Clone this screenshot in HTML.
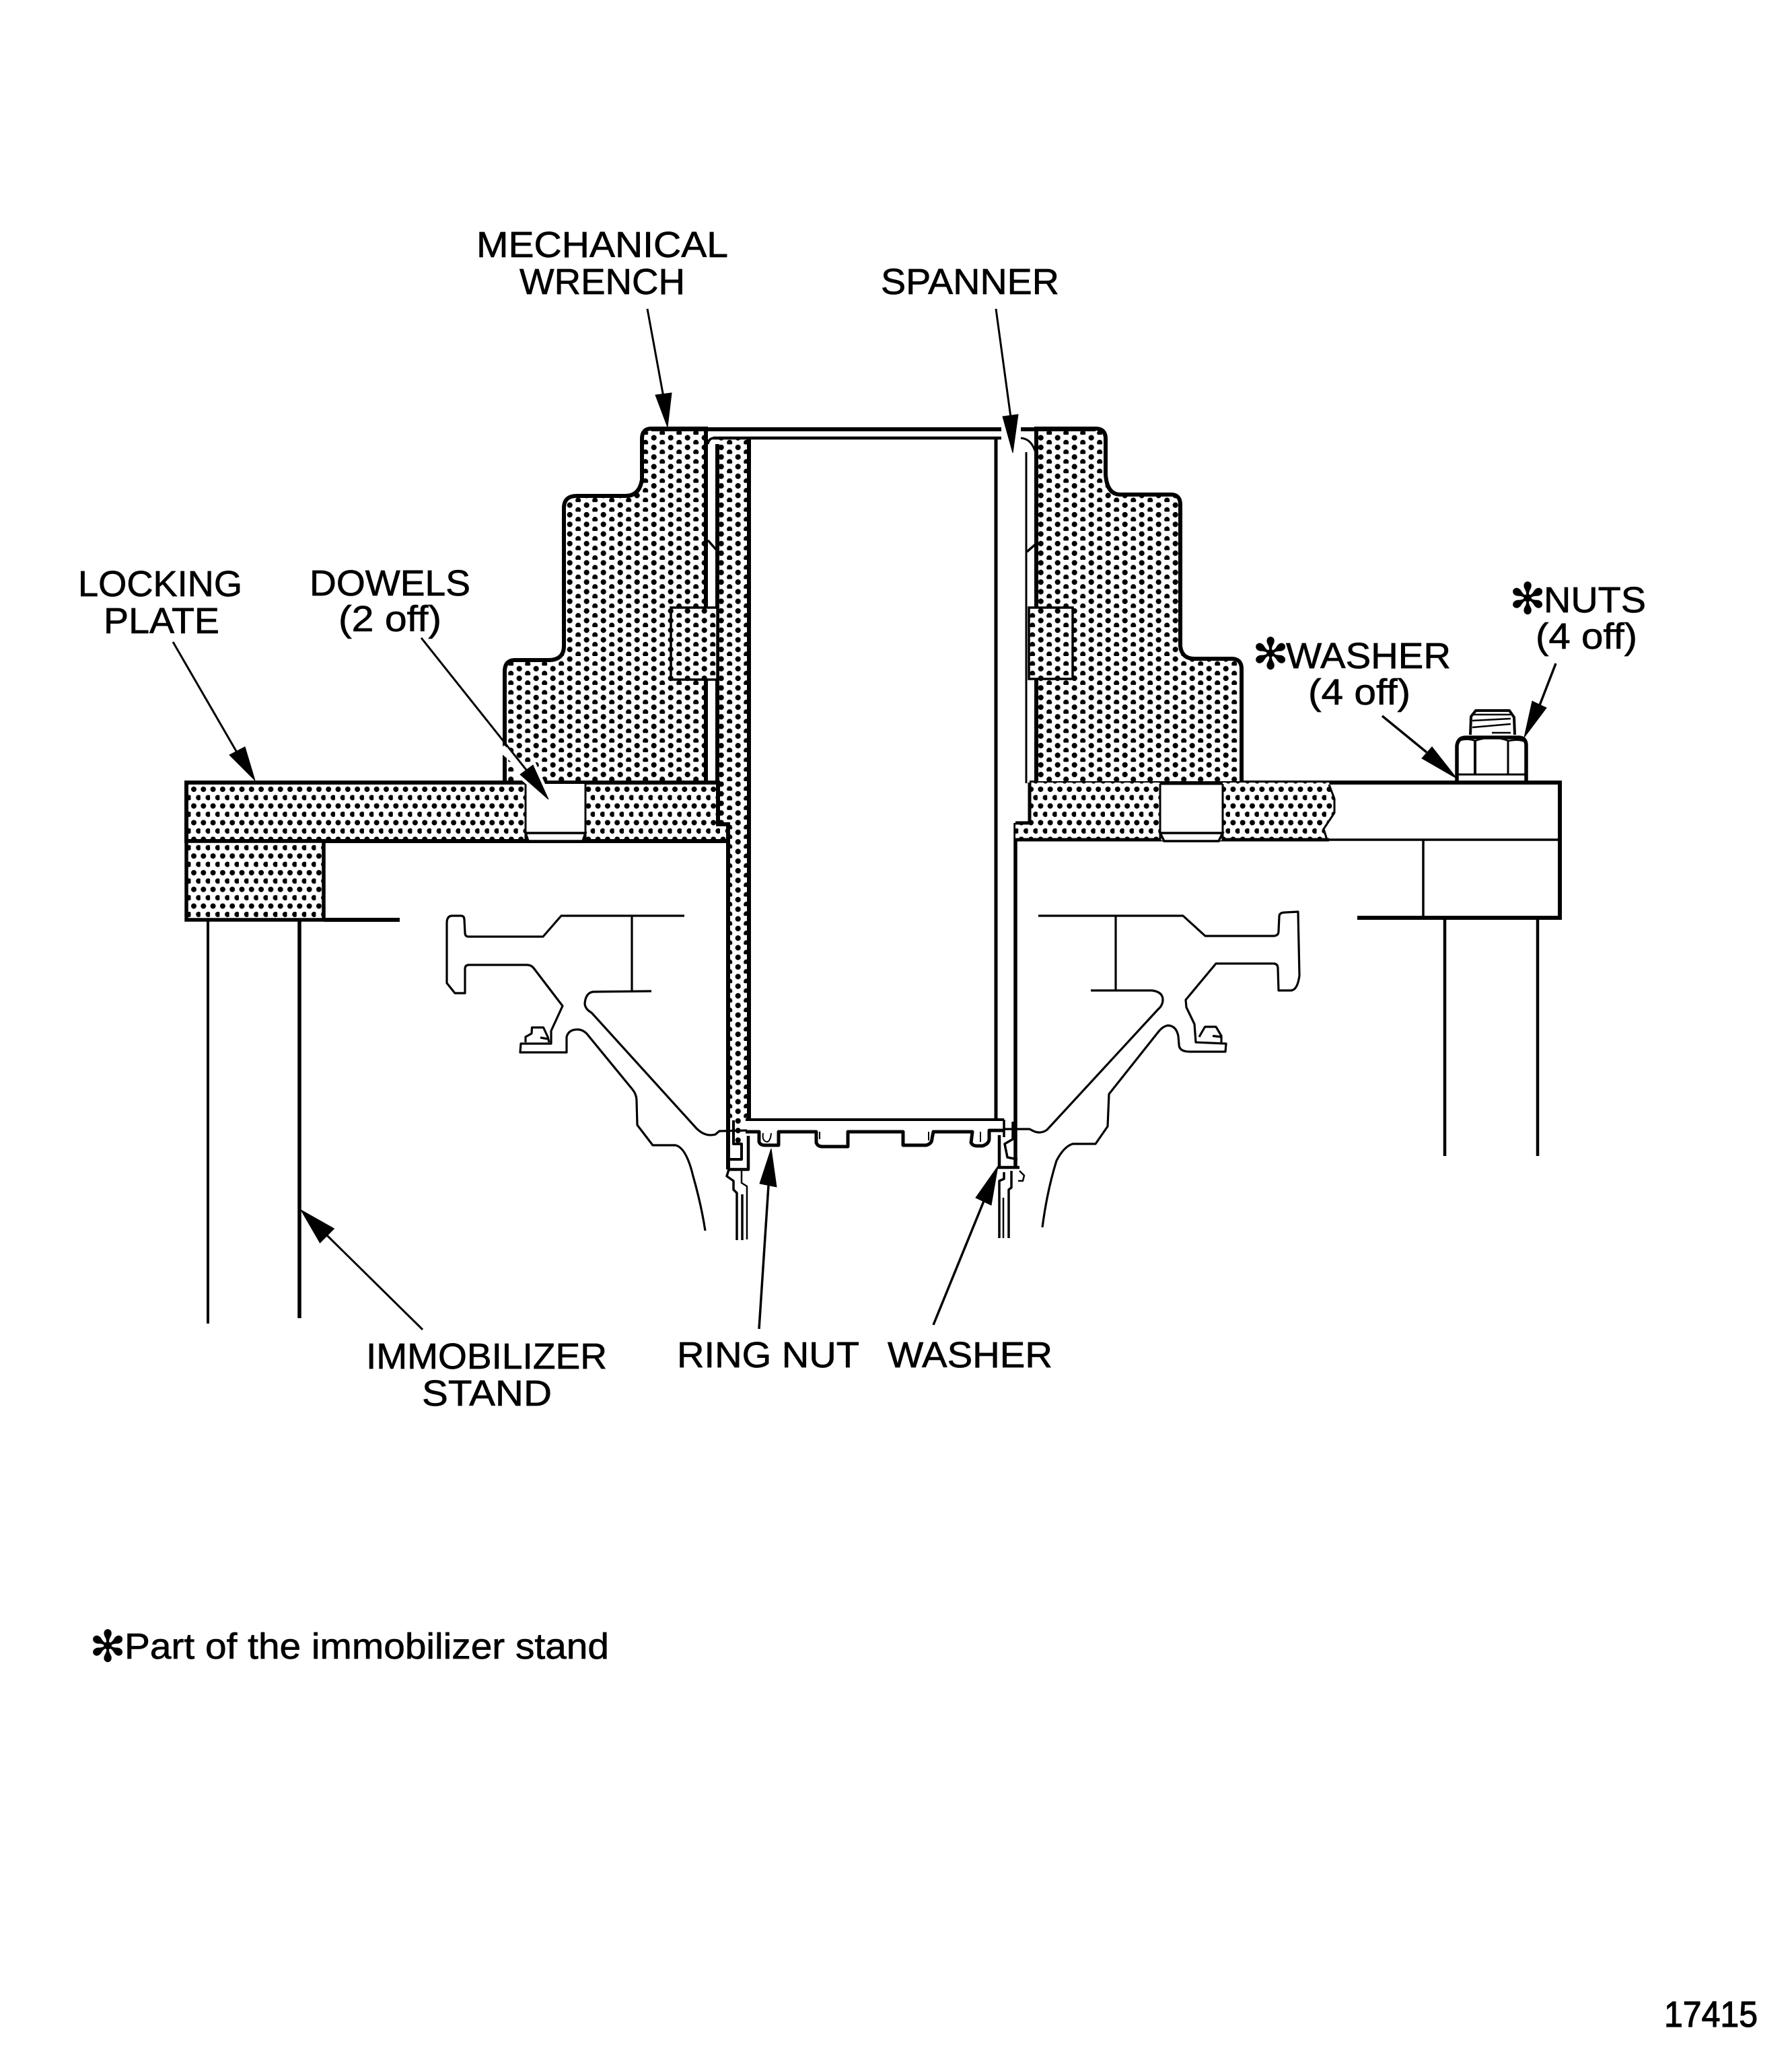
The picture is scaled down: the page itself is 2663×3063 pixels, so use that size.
<!DOCTYPE html>
<html>
<head>
<meta charset="utf-8">
<style>
html,body{margin:0;padding:0;background:#fff;}
svg{display:block;}
text{font-family:"Liberation Sans",sans-serif;font-size:54px;fill:#000;stroke:#000;stroke-width:.7;}
.ast{font-family:"DejaVu Sans",sans-serif;font-size:64px;text-anchor:middle;}
</style>
</head>
<body>
<svg xmlns="http://www.w3.org/2000/svg" width="2663" height="3063" viewBox="0 0 2663 3063">
<defs>
<pattern id="w" patternUnits="userSpaceOnUse" x="842.2" y="760.5" width="25" height="14.3">
<rect width="25" height="14.3" fill="#fff"/>
<circle cx="4.5" cy="4.5" r="4.1"/><circle cx="17" cy="11.65" r="4.1"/>
</pattern>
<pattern id="p" patternUnits="userSpaceOnUse" x="283.5" y="1168.5" width="14.3" height="24.8">
<rect width="14.3" height="24.8" fill="#fff"/>
<circle cx="4.5" cy="4.5" r="4"/><circle cx="11.65" cy="16.9" r="4"/>
</pattern>
</defs>
<rect width="2663" height="3063" fill="#fff"/>

<!-- right plate white part & frame -->
<path d="M1530 1163 L2318 1163 L2318 1364 L2017 1364" fill="none" stroke="#000" stroke-width="6"/>
<path d="M1975 1248 L2318 1248 M2115 1248 L2115 1364" fill="none" stroke="#000" stroke-width="3.5"/>
<path d="M2147 1364 V1718 M2285 1364 V1718" fill="none" stroke="#000" stroke-width="4.5"/>

<!-- wrench -->
<path d="M968 637 Q954 637 954 652 L954 713 Q950 737 930 737 L857 737 Q838 737 838 755 L838 960 Q838 981 815 981 L765 981 Q750 981 750 998 L750 1164 L1049 1164 L1049 637 Z" fill="url(#w)" stroke="#000" stroke-width="6"/>
<path d="M1540 637 L1628 637 Q1643 637 1643 652 L1643 705 Q1645 735 1665 735 L1740 735 Q1754 735 1754 750 L1754 960 Q1756 979 1775 979 L1830 979 Q1845 979 1845 994 L1845 1164 L1540 1164 Z" fill="url(#w)" stroke="#000" stroke-width="6"/>

<!-- spanner left dotted column -->
<path d="M1067 651 L1113 651 L1113 1664 L1082 1664 L1082 1225 L1067 1225 Z" fill="url(#w)" stroke="none"/>
<rect x="1090" y="1664" width="12" height="36" fill="url(#w)"/>
<path d="M1066 660 V1225 M1082 1225 V1738 M1113 651 V1664" fill="none" stroke="#000" stroke-width="6"/>

<!-- keys -->
<rect x="997" y="903" width="69" height="107" fill="url(#w)" stroke="#000" stroke-width="3.5"/>
<rect x="1529" y="903" width="65" height="106" fill="url(#w)" stroke="#000" stroke-width="3.5"/>

<!-- chamfers -->
<path d="M1052 803 L1067 820 M1526 820 L1541 807" fill="none" stroke="#000" stroke-width="3.5"/>
<path d="M1525 672 V1164" fill="none" stroke="#000" stroke-width="3"/>
<path d="M1517 651 Q1532 652 1538 670" fill="none" stroke="#000" stroke-width="3"/>
<path d="M1052 660 Q1053 651 1062 651" fill="none" stroke="#000" stroke-width="3.5"/>

<!-- top lines -->
<path d="M968 638 L1488 638 M1517 638 L1628 638" fill="none" stroke="#000" stroke-width="6"/>
<path d="M1060 651 L1488 651" fill="none" stroke="#000" stroke-width="4.5"/>
<path d="M1480 651 V1664" fill="none" stroke="#000" stroke-width="5"/>
<path d="M1509 1223 V1735" fill="none" stroke="#000" stroke-width="5.5"/>

<!-- plates -->
<path d="M277 1163 L1067 1163 L1067 1225 L1082 1225 L1082 1250 L277 1250 Z" fill="url(#p)" stroke="#000" stroke-width="6"/>
<rect x="277" y="1250" width="204" height="117" fill="url(#p)" stroke="#000" stroke-width="5.5"/>
<path d="M481 1367 L594 1367" fill="none" stroke="#000" stroke-width="6"/>
<path d="M309 1367 V1967" fill="none" stroke="#000" stroke-width="4"/>
<path d="M445 1367 V1959" fill="none" stroke="#000" stroke-width="5.5"/>
<path d="M1530 1163 L1975 1163 L1983 1187 L1983 1208 L1967 1232 L1972 1248 L1509 1248 L1509 1223 L1530 1223 Z" fill="url(#p)" stroke="none"/>
<path d="M1530 1163 V1223 H1509 M1509 1248 H1975" fill="none" stroke="#000" stroke-width="5"/>
<path d="M1975 1166 L1983 1187 L1983 1208 L1967 1232 L1972 1248" fill="none" stroke="#000" stroke-width="3"/>

<!-- dowels -->
<rect x="781" y="1165" width="89" height="84" fill="#fff"/>
<path d="M781 1165 V1250 M870 1165 V1250" fill="none" stroke="#000" stroke-width="3"/>
<path d="M781 1238 L870 1238 L866 1250 L785 1250 Z" fill="#fff" stroke="#000" stroke-width="3.5"/>
<rect x="1724" y="1165" width="93" height="84" fill="#fff"/>
<path d="M1724 1165 V1250 M1817 1165 V1250" fill="none" stroke="#000" stroke-width="3"/>
<path d="M1724 1238 L1817 1238 L1811 1250 L1730 1250 Z" fill="#fff" stroke="#000" stroke-width="3.5"/>
<path d="M1724 1164 H1817" fill="none" stroke="#000" stroke-width="5"/>

<!-- left T section -->
<g fill="none" stroke="#000" stroke-width="3.2" stroke-linejoin="round">
<path d="M1017 1361 L834 1361 L807 1392 L696 1392 Q691 1392 691 1386 L690 1367 Q690 1361 685 1361 L672 1361 Q664 1361 664 1372 L664 1461 L676 1476 L691 1476 L691 1440 Q691 1434 697 1434 L783 1434 Q790 1434 794 1440 L836 1495 L819 1532 L819 1551 L774 1551 L773 1564 L842 1564 L842 1541 Q845 1530 858 1530 Q868 1530 875 1540 L939 1618 Q946 1626 946 1636 L947 1672 L970 1702 L1004 1702 Q1020 1706 1030 1748 Q1042 1790 1048 1829"/>
<path d="M968 1473 L881 1474 Q870 1476 869 1492 Q870 1500 879 1505 L1035 1677 Q1048 1690 1063 1686 L1069 1681 L1110 1680"/>
<path d="M939 1361 L939 1474"/>
<path d="M781 1549 L781 1541 L790 1536 L790.5 1527 L807.5 1527 L814 1541 L816 1549 M803 1542 L814 1544"/>
</g>
<!-- right T section -->
<g fill="none" stroke="#000" stroke-width="3.2" stroke-linejoin="round">
<path d="M1543 1361 L1758 1361 L1791 1391 L1892 1391 Q1900 1391 1900 1384 L1901 1362 Q1901 1356 1910 1356 L1929 1355 L1931 1450 Q1928 1472 1918 1472 L1900 1472 L1899 1439 Q1899 1432 1892 1432 L1807 1432 L1762 1486 L1763 1497 L1775 1522 L1777 1549 L1822 1551 L1821 1563 L1768 1563 Q1752 1563 1752 1552 L1751 1540 Q1748 1524 1735 1524 Q1727 1526 1721 1534 L1648 1626 L1646 1674 L1628 1700 L1594 1700 Q1581 1704 1570 1725 Q1556 1770 1549 1824"/>
<path d="M1621 1472 L1712 1472 Q1728 1474 1728 1486 Q1728 1494 1721 1500 L1556 1679 Q1545 1687 1532 1679 L1530 1678 L1492 1678"/>
<path d="M1658 1361 L1658 1472"/>
<path d="M1782 1541 L1790.6 1526 L1807 1526 L1815 1539.5 L1815 1549 M1802 1539.5 L1815 1541"/>
</g>

<!-- floor with teeth -->
<g fill="none" stroke="#000" stroke-linejoin="round">
<path d="M1108 1664 L1492 1664" stroke-width="4"/>
<path d="M1492 1664 V1690" stroke-width="3.5"/>
<path d="M1108 1682 L1128 1682 L1128 1697 Q1130 1702 1136 1702 L1157 1702 L1157 1682 L1213 1682 L1213 1698 Q1215 1704 1222 1704 L1260 1704 L1260 1682 L1342 1682 L1342 1702 L1376 1702 Q1385 1700 1385 1692 L1387 1682 L1445 1682 L1443 1698 Q1445 1703 1452 1703 L1460 1703 Q1470 1700 1470 1692 L1470 1680 L1492 1680" stroke-width="5"/>
<path d="M1134 1684 Q1132 1696 1140 1697 Q1145 1696 1146 1684 M1218 1682 V1693 M1380 1682 V1695 M1457 1682 V1697" stroke-width="2"/>
<!-- left mechanism -->
<path d="M1112 1688 V1738 H1083" stroke-width="4.5"/>
<path d="M1090 1665 V1700 H1102 V1723 H1085" stroke-width="4"/>
<path d="M1083 1738 L1080 1748 L1090 1755 L1090 1768 L1095 1773 V1843" stroke-width="3.5"/>
<path d="M1103 1775 V1843" stroke-width="3.5"/>
<path d="M1102 1740 V1758 L1110 1763 V1842" stroke-width="2.5"/>
<!-- right mechanism -->
<path d="M1485 1687 V1733" stroke-width="4.5"/>
<path d="M1483 1735 H1515" stroke-width="4.5"/>
<path d="M1505 1667 V1693 L1493 1700 L1497 1720 L1512 1723" stroke-width="3.5"/>
<path d="M1515 1740 L1522 1747 L1520 1755 L1513 1755" stroke-width="2.5"/>
<path d="M1485 1840 V1755 L1492 1752 V1742" stroke-width="3.5"/>
<path d="M1491 1780 V1840" stroke-width="2.5"/>
<path d="M1499 1840 V1768 L1503 1765 V1740" stroke-width="3.5"/>
</g>

<!-- nut and bolt -->
<g fill="none" stroke="#000" stroke-linejoin="round">
<rect x="2167" y="1098" width="99" height="60" fill="#fff" stroke="none"/>
<path d="M2185 1092 L2186 1065 L2193 1056 L2243 1056 L2250 1066 L2251 1092" stroke-width="4"/>
<path d="M2188 1062 H2245 M2188 1071 L2245 1068 M2188 1081 L2245 1076 M2217 1089 H2245" stroke-width="2.5"/>
<path d="M2165 1162 L2165 1108 Q2167 1096 2178 1096 L2258 1096 Q2268 1097 2268 1108 L2268 1162" stroke-width="5.5"/>
<path d="M2170 1100 Q2182 1097 2192 1101 Q2217 1092 2242 1101 Q2256 1098 2266 1102" stroke-width="2.5"/>
<path d="M2192 1101 V1152" stroke-width="4"/>
<path d="M2241 1101 V1150" stroke-width="3"/>
<path d="M2165 1151 H2268" stroke-width="3"/>
</g>

<!-- arrows -->
<g fill="#000" stroke="#000">
<line x1="962" y1="459" x2="986" y2="590" stroke-width="3"/>
<polygon points="992,635 974,587 998,584" stroke-width="1"/>
<line x1="1480" y1="459" x2="1502" y2="620" stroke-width="3"/>
<polygon points="1505,673 1490,619 1513,616" stroke-width="1"/>
<line x1="257" y1="954" x2="352" y2="1118" stroke-width="3"/>
<polygon points="379,1160 341,1122 364,1110" stroke-width="1"/>
<path d="M745 1112 L782 1144" fill="none" stroke="#fff" stroke-width="12"/>
<polygon points="815,1188 773,1151 792,1137" fill="#fff" stroke="#fff" stroke-width="10"/>
<line x1="626" y1="948" x2="782" y2="1144" stroke-width="3"/>
<polygon points="815,1188 773,1151 792,1137" stroke-width="1"/>
<line x1="2054" y1="1064" x2="2120" y2="1118" stroke-width="3.5"/>
<polygon points="2165,1157 2113,1127 2128,1110" stroke-width="1"/>
<line x1="2312" y1="986" x2="2288" y2="1048" stroke-width="3.5"/>
<polygon points="2265,1096 2277,1042 2298,1052" stroke-width="1"/>
<line x1="628" y1="1976" x2="486" y2="1836" stroke-width="3"/>
<polygon points="447,1798 496.5,1826 475.5,1847" stroke-width="1"/>
<line x1="1128" y1="1975" x2="1142" y2="1762" stroke-width="3.5"/>
<polygon points="1146,1707 1129,1759 1154,1764" stroke-width="1"/>
<line x1="1387" y1="1969" x2="1462" y2="1785" stroke-width="3.5"/>
<polygon points="1483,1733 1450,1780 1473,1791" stroke-width="1"/>
</g>

<!-- labels -->
<text x="708" y="382" textLength="374" lengthAdjust="spacingAndGlyphs">MECHANICAL</text>
<text x="772" y="437" textLength="246" lengthAdjust="spacingAndGlyphs">WRENCH</text>
<text x="1309" y="437" textLength="265" lengthAdjust="spacingAndGlyphs">SPANNER</text>
<text x="116" y="886" textLength="244" lengthAdjust="spacingAndGlyphs">LOCKING</text>
<text x="154" y="941" textLength="172" lengthAdjust="spacingAndGlyphs">PLATE</text>
<text x="460" y="885" textLength="239" lengthAdjust="spacingAndGlyphs">DOWELS</text>
<text x="503" y="938" textLength="153" lengthAdjust="spacingAndGlyphs">(2 off)</text>
<text class="ast" x="1888" y="994">✻</text>
<text x="1911" y="993" textLength="245" lengthAdjust="spacingAndGlyphs">WASHER</text>
<text x="1944" y="1047" textLength="152" lengthAdjust="spacingAndGlyphs">(4 off)</text>
<text class="ast" x="2270" y="912">✻</text>
<text x="2294" y="910" textLength="152" lengthAdjust="spacingAndGlyphs">NUTS</text>
<text x="2282" y="964" textLength="151" lengthAdjust="spacingAndGlyphs">(4 off)</text>
<text x="544" y="2034" textLength="358" lengthAdjust="spacingAndGlyphs">IMMOBILIZER</text>
<text x="627" y="2089" textLength="193" lengthAdjust="spacingAndGlyphs">STAND</text>
<text x="1006" y="2032" textLength="271" lengthAdjust="spacingAndGlyphs">RING NUT</text>
<text x="1319" y="2032" textLength="245" lengthAdjust="spacingAndGlyphs">WASHER</text>
<text class="ast" x="160" y="2469">✻</text>
<text x="185" y="2465" textLength="720" lengthAdjust="spacingAndGlyphs">Part of the immobilizer stand</text>
<text x="2473" y="3012" textLength="139" lengthAdjust="spacingAndGlyphs" style="font-size:54px;stroke-width:1.2">17415</text>
</svg>
</body>
</html>
